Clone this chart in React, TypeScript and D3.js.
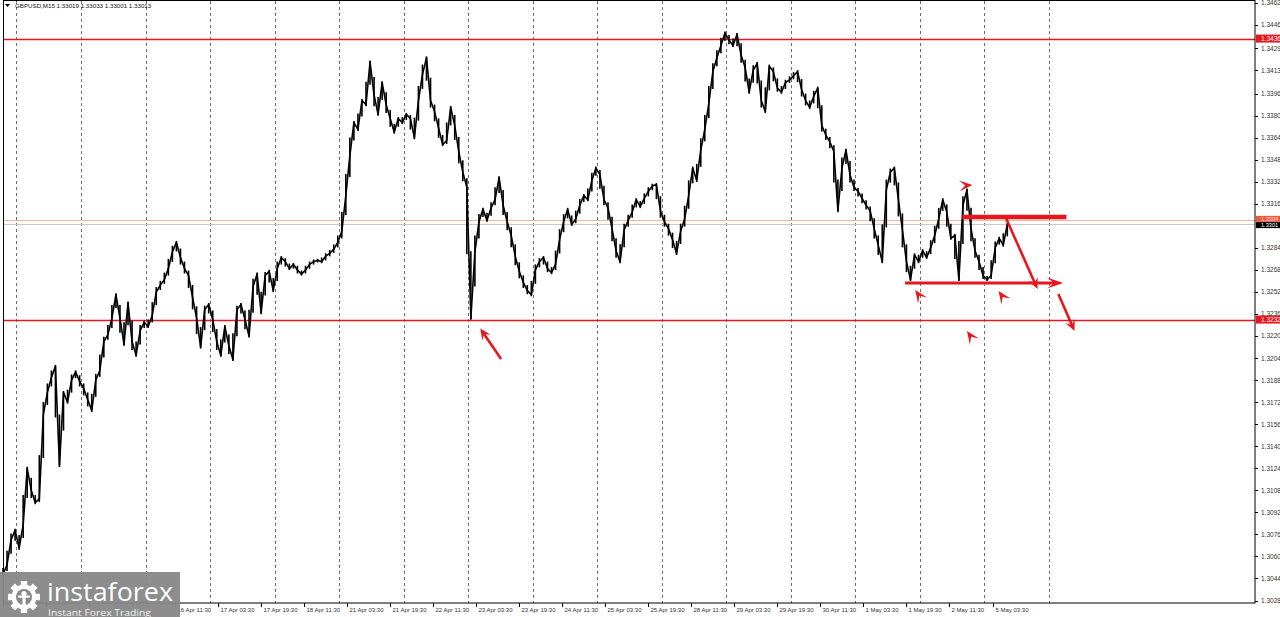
import React from 'react';
import * as d3 from 'd3';

const W = 1280;
const H = 617;

// GBPUSD M15 closes, one value every 6 bars
const barsPerSample = 6;
const closes: number[] = [
  1.3047, 1.3054, 1.3072, 1.3079, 1.3066, 1.3083, 1.3124, 1.3108, 1.3099, 1.3102,
  1.3163, 1.3179, 1.3190, 1.3198, 1.3126, 1.3179, 1.3172, 1.3188, 1.3194, 1.3187,
  1.3182, 1.3174, 1.3166, 1.3188, 1.3195, 1.3216, 1.3221, 1.3233, 1.3250, 1.3233,
  1.3214, 1.3244, 1.3216, 1.3206, 1.3224, 1.3230, 1.3227, 1.3235, 1.3252, 1.3257,
  1.3261, 1.3269, 1.3281, 1.3288, 1.3277, 1.3269, 1.3264, 1.3248, 1.3233, 1.3212,
  1.3239, 1.3243, 1.3232, 1.3216, 1.3206, 1.3227, 1.3213, 1.3203, 1.3239, 1.3243,
  1.3232, 1.3220, 1.3256, 1.3265, 1.3237, 1.3264, 1.3267, 1.3253, 1.3269, 1.3277,
  1.3274, 1.3269, 1.3272, 1.3268, 1.3265, 1.3268, 1.3272, 1.3274, 1.3275, 1.3274,
  1.3278, 1.3280, 1.3283, 1.3288, 1.3296, 1.3322, 1.3351, 1.3375, 1.3370, 1.3391,
  1.3388, 1.3419, 1.3395, 1.3381, 1.3404, 1.3388, 1.3378, 1.3368, 1.3378, 1.3375,
  1.3381, 1.3378, 1.3364, 1.3391, 1.3410, 1.3422, 1.3391, 1.3383, 1.3371, 1.3359,
  1.3362, 1.3386, 1.3373, 1.3354, 1.3339, 1.3328, 1.3233, 1.3281, 1.3303, 1.3312,
  1.3304, 1.3313, 1.3319, 1.3335, 1.3315, 1.3303, 1.3293, 1.3278, 1.3267, 1.3259,
  1.3253, 1.3250, 1.3268, 1.3274, 1.3277, 1.3269, 1.3266, 1.3272, 1.3290, 1.3303,
  1.3312, 1.3301, 1.3305, 1.3315, 1.3322, 1.3319, 1.3333, 1.3342, 1.3337, 1.3319,
  1.3313, 1.3298, 1.3282, 1.3274, 1.3297, 1.3304, 1.3310, 1.3319, 1.3314, 1.3320,
  1.3325, 1.3329, 1.3330, 1.3311, 1.3303, 1.3298, 1.3290, 1.3280, 1.3296, 1.3305,
  1.3322, 1.3342, 1.3333, 1.3355, 1.3370, 1.3389, 1.3412, 1.3422, 1.3431, 1.3440,
  1.3435, 1.3431, 1.3439, 1.3424, 1.3415, 1.3397, 1.3413, 1.3418, 1.3391, 1.3383,
  1.3416, 1.3412, 1.3400, 1.3397, 1.3404, 1.3406, 1.3409, 1.3412, 1.3399, 1.3391,
  1.3386, 1.3394, 1.3400, 1.3373, 1.3366, 1.3361, 1.3354, 1.3311, 1.3342, 1.3355,
  1.3337, 1.3328, 1.3325, 1.3320, 1.3315, 1.3311, 1.3298, 1.3286, 1.3274, 1.3326,
  1.3339, 1.3342, 1.3319, 1.3297, 1.3274, 1.3261, 1.3279, 1.3274, 1.3282, 1.3277,
  1.3284, 1.3293, 1.3305, 1.3319, 1.3310, 1.3291, 1.3293, 1.3261, 1.3315, 1.3326,
  1.3298, 1.3282, 1.3274, 1.3264, 1.3261, 1.3264, 1.3284, 1.3291, 1.3286, 1.3301,
];

const priceTicks: string[] = [
  '1.3462', '1.3446', '1.3429', '1.3413', '1.3396', '1.3380', '1.3364', '1.3348',
  '1.3332', '1.3316', '1.3284', '1.3268', '1.3252', '1.3236', '1.3220', '1.3204',
  '1.3188', '1.3172', '1.3156', '1.3140', '1.3124', '1.3108', '1.3092', '1.3076',
  '1.3060', '1.3044', '1.3028',
];

const timeLabels: string[] = [
  '11 Apr 19:30', '14 Apr 11:30', '15 Apr 03:30', '15 Apr 19:30', '16 Apr 11:30',
  '17 Apr 03:30', '17 Apr 19:30', '18 Apr 11:30', '21 Apr 03:30', '21 Apr 19:30',
  '22 Apr 11:30', '23 Apr 03:30', '23 Apr 19:30', '24 Apr 11:30', '25 Apr 03:30',
  '25 Apr 19:30', '28 Apr 11:30', '29 Apr 03:30', '29 Apr 19:30', '30 Apr 11:30',
  '1 May 03:30', '1 May 19:30', '2 May 11:30', '5 May 03:30',
];
const barsPerTimeLabel = 64;

const gridFirstBar = 20;
const gridEveryBars = 96;
const gridCount = 17;

const header = 'GBPUSD,M15  1.33019 1.33033 1.33001 1.33013';

const resistanceLevel = 1.3436;
const supportLevel = 1.3232;
const askLevel = 1.3304;
const bidLevel = 1.33013;

// drawn annotations, in [bar, price]
const thickLevel = { from: 1427, to: 1582, price: 1.33065 };
const baseLevel = { from: 1342, to: 1577, price: 1.32585 };
const arrowLines: { from: [number, number]; to: [number, number] }[] = [
  { from: [1492, 1.33057], to: [1539, 1.32542] },
  { from: [1570, 1.32506], to: [1594, 1.32237] },
  { from: [741, 1.32034], to: [710, 1.32255] },
];
const pointers: { bar: number; price: number; angle: number }[] = [
  { bar: 1442, price: 1.33297, angle: -4 },
  { bar: 1357, price: 1.32535, angle: -125 },
  { bar: 1481, price: 1.32527, angle: -125 },
  { bar: 1434, price: 1.32237, angle: -125 },
];

const RED = '#e8161c';
const FONT = "'Liberation Sans', Arial, sans-serif";
const LOGO_RIGHT = 180;

const xScale = d3.scaleLinear().domain([0, 1862.5]).range([3, 1255]);
const yScale = d3.scaleLinear().domain([1.30262, 1.3464]).range([603, 0]);

function headPath(tx: number, ty: number, ang: number, len: number, half: number, notch: number) {
  const ux = Math.cos(ang);
  const uy = Math.sin(ang);
  const bx = tx - ux * len;
  const by = ty - uy * len;
  const px = -uy;
  const py = ux;
  const nx = tx - ux * len * notch;
  const ny = ty - uy * len * notch;
  return `M${tx},${ty}L${bx + px * half},${by + py * half}L${nx},${ny}L${bx - px * half},${by - py * half}Z`;
}

export default function App() {
  const line = d3
    .line<number>()
    .x((_, i) => xScale(i * barsPerSample))
    .y((d) => yScale(d));

  // bar-like vertical strokes spanning each sample's neighbours (dense M15 look)
  const spans = closes.map((c, i) => {
    const a = closes[Math.max(0, i - 1)];
    const b = closes[Math.min(closes.length - 1, i + 1)];
    const lo = Math.min(c, (a + c) / 2, (b + c) / 2);
    const hi = Math.max(c, (a + c) / 2, (b + c) / 2);
    return { x: xScale(i * barsPerSample), y1: yScale(hi), y2: yScale(lo) };
  });

  const gridBars = d3.range(gridCount).map((n) => gridFirstBar + n * gridEveryBars);

  const level = (p: number) => Math.round(yScale(p)) + 0.5;

  const priceBoxes = [
    { p: resistanceLevel, bg: RED, fg: '#fff', dy: 0 },
    { p: supportLevel, bg: RED, fg: '#fff', dy: 0 },
    { p: askLevel, bg: '#ef5a3a', fg: '#fde', dy: -1.5 },
    { p: bidLevel, bg: '#000', fg: '#fff', dy: 1 },
  ];

  return (
    <svg
      width={W}
      height={H}
      style={{ position: 'absolute', left: 0, top: 0, background: '#fff' }}
      fontFamily={FONT}
    >
      <rect x={0} y={0} width={W} height={H} fill="#fff" />
      {/* vertical dashed grid */}
      {gridBars.map((b, i) => (
        <line
          key={'g' + i}
          x1={Math.round(xScale(b)) + 0.5}
          x2={Math.round(xScale(b)) + 0.5}
          y1={1}
          y2={603}
          stroke="#6e6e6e"
          strokeDasharray="3,3"
          strokeWidth={1}
        />
      ))}
      {/* horizontal levels */}
      <line x1={3} x2={1255} y1={level(resistanceLevel)} y2={level(resistanceLevel)} stroke={RED} strokeWidth={1.3} />
      <line x1={3} x2={1255} y1={level(supportLevel)} y2={level(supportLevel)} stroke={RED} strokeWidth={1.3} />
      <line x1={3} x2={1255} y1={level(askLevel)} y2={level(askLevel)} stroke="#f3b597" strokeWidth={1.2} />
      <line x1={3} x2={1255} y1={level(bidLevel)} y2={level(bidLevel)} stroke="#c9c9c9" strokeWidth={1} />

      {/* price line */}
      {spans.map((s, i) => (
        <line key={'s' + i} x1={s.x} x2={s.x} y1={s.y1 - 1.5} y2={s.y2 + 1.5} stroke="#000" strokeWidth={1.6} />
      ))}
      <path d={line(closes) || ''} fill="none" stroke="#000" strokeWidth={1.6} strokeLinejoin="round" />

      {/* annotations */}
      <line
        x1={xScale(thickLevel.from)}
        x2={xScale(thickLevel.to)}
        y1={yScale(thickLevel.price)}
        y2={yScale(thickLevel.price)}
        stroke={RED}
        strokeWidth={4.5}
      />
      <line
        x1={xScale(baseLevel.from)}
        x2={xScale(baseLevel.to) - 8}
        y1={yScale(baseLevel.price)}
        y2={yScale(baseLevel.price)}
        stroke={RED}
        strokeWidth={3}
      />
      <path d={headPath(xScale(baseLevel.to), yScale(baseLevel.price), 0, 16, 5.5, 0.55)} fill={RED} />
      {arrowLines.map((a, i) => {
        const x1 = xScale(a.from[0]);
        const y1 = yScale(a.from[1]);
        const x2 = xScale(a.to[0]);
        const y2 = yScale(a.to[1]);
        const ang = Math.atan2(y2 - y1, x2 - x1);
        const len = 11;
        return (
          <g key={'a' + i}>
            <line
              x1={x1}
              y1={y1}
              x2={x2 - Math.cos(ang) * len * 0.6}
              y2={y2 - Math.sin(ang) * len * 0.6}
              stroke={RED}
              strokeWidth={2.6}
            />
            <path d={headPath(x2, y2, ang, len, 5, 0.6)} fill={RED} />
          </g>
        );
      })}
      {pointers.map((p, i) => (
        <path
          key={'p' + i}
          d={headPath(xScale(p.bar), yScale(p.price), (p.angle * Math.PI) / 180, 13, 5.5, 0.55)}
          fill={RED}
        />
      ))}

      {/* frame */}
      <rect x={3.5} y={0.5} width={1251.5} height={602.5} fill="none" stroke="#000" strokeWidth={1} />

      {/* right axis */}
      {priceTicks.map((t, i) => {
        const y = yScale(+t);
        return (
          <g key={'t' + i}>
            <line x1={1255} x2={1258} y1={Math.round(y) + 0.5} y2={Math.round(y) + 0.5} stroke="#000" />
            <text x={1261} y={y + 2.4} fontSize={6.5} fill="#333">
              {t}
            </text>
          </g>
        );
      })}
      {priceBoxes.map((l, i) => {
        const y = yScale(l.p) + l.dy;
        const small = l.dy !== 0;
        return (
          <g key={'l' + i}>
            <rect x={1256} y={y - (small ? 3 : 4)} width={24} height={small ? 6 : 8} fill={l.bg} />
            <text x={1261} y={y + (small ? 2 : 2.4)} fontSize={small ? 5.6 : 6.5} fill={l.fg}>
              {l.p.toFixed(4)}
            </text>
          </g>
        );
      })}

      {/* bottom axis (labels fully hidden by the watermark are not drawn) */}
      {timeLabels.map((t, j) => {
        const x = Math.round(xScale(j * barsPerTimeLabel)) + 0.5;
        const hidden = x + 36 < LOGO_RIGHT;
        return (
          <g key={'x' + j}>
            <line x1={x} x2={x} y1={603} y2={607} stroke="#000" />
            {!hidden && (
              <text x={x + 2} y={612} fontSize={6} fill="#333">
                {t}
              </text>
            )}
          </g>
        );
      })}

      {/* header */}
      <path d="M5,4 L10,4 L7.5,7 Z" fill="#000" />
      <text x={15} y={8} fontSize={6.2} fill="#111">
        {header}
      </text>

      {/* watermark logo */}
      <g>
        <rect x={0} y={572} width={LOGO_RIGHT} height={45} fill="#878787" opacity={0.95} />
        <g transform="translate(24,597)">
          {d3.range(8).map((i) => (
            <rect
              key={'gear' + i}
              x={-3.2}
              y={-16}
              width={6.4}
              height={7}
              fill="#fff"
              transform={`rotate(${i * 45})`}
            />
          ))}
          <circle r={12.5} fill="#fff" />
          <circle r={8} fill="#878787" />
          <circle cx={0} cy={-3.5} r={2.6} fill="#fff" />
          <rect x={-1.6} y={-0.5} width={3.2} height={9} fill="#fff" />
          <rect x={-6} y={-1.5} width={12} height={2.2} fill="#fff" />
        </g>
        <text x={47} y={601} fontSize={25} fill="#fff" fontFamily="'Open Sans', sans-serif" textLength={126} lengthAdjust="spacingAndGlyphs">
          instaforex
        </text>
        <text x={48} y={615.5} fontSize={9.5} fill="#f2f2f2" fontFamily="'Open Sans', sans-serif" textLength={103} lengthAdjust="spacingAndGlyphs">
          Instant Forex Trading
        </text>
      </g>
    </svg>
  );
}
